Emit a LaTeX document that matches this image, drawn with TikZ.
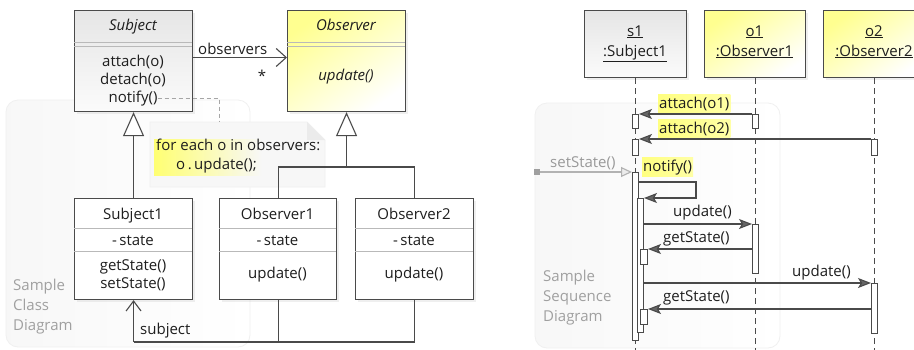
\documentclass[tikz,border=0pt]{standalone}
\usepackage{fontspec}
\setmainfont{Open Sans}
\usetikzlibrary{arrows.meta,shadows,calc}
\definecolor{lc}{HTML}{4A4A4A}
\definecolor{ah}{HTML}{666666}
\definecolor{gtxt}{HTML}{A0A0A0}
\definecolor{yel}{HTML}{FFFF90}
\definecolor{hl}{HTML}{FFFF80}
\definecolor{tc}{HTML}{1E1E1E}
\tikzset{
  box/.style={draw=lc, line width=1.1pt, inner sep=0pt, anchor=north west, drop shadow={opacity=0.12, shadow xshift=2.5pt, shadow yshift=-2.5pt}},
  graybox/.style={box, top color=gray!20, bottom color=gray!3},
  yelbox/.style={box, top color=yel, bottom color=white, shading angle=35},
  whitebox/.style={box, fill=white},
  txt/.style={inner sep=0pt, anchor=base, text=tc},
  ltxt/.style={inner sep=0pt, anchor=base west, text=tc},
  gtext/.style={inner sep=0pt, anchor=base west, text=gtxt},
  sepl/.style={draw=gray!55, line width=0.8pt},
  conn/.style={draw=lc, line width=1.1pt},
  gen/.style={conn, -{Triangle[open, length=24pt, width=21pt, fill=white]}},
  assoc/.style={conn, -{Straight Barb[length=10pt, width=18pt]}},
  lifeline/.style={draw=lc, line width=1.1pt, dash pattern=on 6pt off 4pt},
  act/.style={draw=lc, line width=1pt, fill=white, inner sep=0pt, anchor=north west, minimum width=6pt},
  msg/.style={draw=lc, line width=1.1pt, -{Stealth[length=13pt, width=10pt, inset=3pt, fill=ah]}},
  hilite/.style={inner xsep=1pt, inner ysep=2pt, anchor=base west, left color=hl, right color=hl!70!white, text=tc},
  panel/.style={draw=gray!12, line width=0.8pt, left color=gray!6, right color=white, rounded corners=12pt},
}
\begin{document}
\begin{tikzpicture}[x=1pt, y=-1pt, font=\fontsize{15}{18}\selectfont]
\useasboundingbox (0,0) rectangle (914,349);
\clip (0,0) rectangle (914,349);
\fill[white] (0,0) rectangle (914,349);
% background panels
\path[panel] (6,100) rectangle (250,347);
\path[panel] (535,103) rectangle (780,348);
\node[gtext] (smp1) at (13,290) {Sample};
\node[gtext] (cls1) at (13,310) {Class};
\node[gtext] (dia1) at (13,330) {Diagram};
\node[gtext] (smp2) at (543,281) {Sample};
\node[gtext] (seq2) at (543,301) {Sequence};
\node[gtext] (dia2) at (543,321) {Diagram};
% note
\path[fill=gray!6, draw=gray!12, line width=0.8pt] (150,122) -- (307,122) -- (325,140) -- (325,187) -- (150,187) -- cycle;
\path[fill=gray!16] (307,122) -- (307,140) -- (325,140) -- cycle;
\fill[left color=yellow!55, right color=gray!6] (154,139) rectangle (262,175);
\node[ltxt] (n1) at (156,150) {for each o in observers:};
\node[ltxt] (n2) at (176,169) {o\,.\,update();};
\coordinate (noteTop) at (219,122);
% class boxes
\node[graybox, minimum width=118pt, minimum height=101pt] (subj) at (74,10) {};
\node[yelbox, minimum width=118pt, minimum height=101pt] (obs) at (287,10) {};
\node[whitebox, minimum width=118pt, minimum height=101pt] (sub1) at (74,198) {};
\node[whitebox, minimum width=117pt, minimum height=101pt] (obs1) at (219,198) {};
\node[whitebox, minimum width=118pt, minimum height=101pt] (obs2) at (355,198) {};
% separators
\draw[sepl] (74,42) -- (192,42); \draw[sepl] (74,46) -- (192,46);
\draw[sepl] (287,42) -- (405,42); \draw[sepl] (287,46) -- (405,46);
\draw[sepl] (74,228) -- (192,228); \draw[sepl] (74,251) -- (192,251);
\draw[sepl] (219,228) -- (336,228); \draw[sepl] (219,251) -- (336,251);
\draw[sepl] (355,228) -- (473,228); \draw[sepl] (355,251) -- (473,251);
% class texts
\node[txt] (subjT) at (133,30) {\itshape Subject};
\node[txt] (att) at (133,66) {attach(o)};
\node[txt] (det) at (133,84) {detach(o)};
\node[txt] (nfy) at (133,102) {notify()};
\node[txt] (obsT) at (346,30) {\itshape Observer};
\node[txt] (obsU) at (346,80) {\itshape update()};
\node[txt] (s1T) at (133,219) {Subject1};
\node[txt] (s1S) at (133,245) {-\,state};
\node[txt] (s1G) at (133,270) {getState()};
\node[txt] (s1X) at (133,288) {setState()};
\node[txt] (o1T) at (277.5,219) {Observer1};
\node[txt] (o1S) at (277.5,245) {-\,state};
\node[txt] (o1U) at (277.5,278) {update()};
\node[txt] (o2T) at (414,219) {Observer2};
\node[txt] (o2S) at (414,245) {-\,state};
\node[txt] (o2U) at (414,278) {update()};
% class connectors
\draw[draw=gray!70, line width=0.9pt, dash pattern=on 4pt off 3pt] (nfy.east) -| (noteTop);
\draw[assoc] (subj.east |- att) ++(0,-4) coordinate (aS) -- (obs.west |- aS);
\node[ltxt] (obsL) at (198,54) {observers};
\node[txt] (star) at (262,81) {*};
\draw[gen] (sub1.north) -- (subj.south);
\coordinate (obsJ) at (obs.south |- 0,167);
\draw[gen] (obsJ) -- (obs.south);
\draw[conn] (obs1.north) |- (obsJ) -| (obs2.north);
\coordinate (botL) at (sub1.south |- 0,342);
\draw[conn] (obs2.south) |- (botL);
\draw[conn] (obs1.south) -- (obs1.south |- botL);
\draw[conn, -{Straight Barb[length=10pt, width=15pt]}] (botL) -- (sub1.south);
\node[ltxt] (subjL) at (140,334) {subject};
% sequence heads
\node[graybox, minimum width=102pt, minimum height=67pt] (s1) at (584,10) {};
\node[yelbox, minimum width=101pt, minimum height=67pt] (o1) at (704,10) {};
\node[yelbox, minimum width=102pt, minimum height=67pt] (o2) at (823,10) {};
\node[txt] (s1a) at (635,36) {\underline{s1}};
\node[txt] (s1b) at (635,56) {\underline{:Subject1}};
\node[txt] (o1a) at (754.5,36) {\underline{o1}};
\node[txt] (o1b) at (754.5,56) {\underline{:Observer1}};
\node[txt] (o2a) at (874,36) {\underline{o2}};
\node[txt] (o2b) at (874,56) {\underline{:Observer2}};
% lifelines
\draw[lifeline] (s1.south) -- (s1.south |- 0,352);
\draw[lifeline] (o1.south) -- (o1.south |- 0,352);
\draw[lifeline] (o2.south) -- (o2.south |- 0,352);
% activation bars
\node[act, minimum height=14pt] (a1s1) at (632,114) {};
\node[act, minimum height=14pt] (a1o1) at (752,114) {};
\node[act, minimum height=16pt] (a2s1) at (632,139) {};
\node[act, minimum height=16pt] (a2o2) at (871,139) {};
\node[act, minimum height=168pt] (main) at (632,172) {};
\node[act, minimum height=134pt] (nest) at (637,198) {};
\node[act, minimum height=15pt, minimum width=7pt] (g1s1) at (640,249) {};
\node[act, minimum height=15pt, minimum width=7pt] (g2s1) at (640,309) {};
\node[act, minimum height=49pt] (u1o1) at (752,224) {};
\node[act, minimum height=50pt] (u2o2) at (871,283) {};
% message labels
\node[hilite] (at1L) at (658,108) {attach(o1)};
\node[hilite] (at2L) at (658,133) {attach(o2)};
\node[hilite] (nfL) at (642,171) {notify()};
\node[gtext, text=gray!80] (ssL) at (550,167) {setState()};
\node[ltxt] (up1L) at (673,216) {update()};
\node[ltxt] (gs1L) at (663,242) {getState()};
\node[ltxt] (up2L) at (792,276) {update()};
\node[ltxt] (gs2L) at (663,301) {getState()};
% messages
\node[fill=gray!75, minimum size=6pt, inner sep=0pt] (ext) at (537,172) {};
\draw[draw=gray!60, line width=1.1pt, -{Triangle[open, length=11pt, width=10pt, fill=gray!15]}] (ext) -- (main.north west);
\draw[msg] (a1o1.north west) -- (a1s1.north east);
\draw[msg] (a2o2.north west) -- (a2s1.north east);
\coordinate (selfR) at (696,182);
\draw[msg] (main.east |- selfR) -- (selfR) |- (nest.north east);
\draw[msg] (nest.east |- u1o1.north) -- (u1o1.north west);
\draw[msg] (u1o1.west |- g1s1.north) -- (g1s1.north east);
\draw[msg] (nest.east |- u2o2.north) -- (u2o2.north west);
\draw[msg] (u2o2.west |- g2s1.north) -- (g2s1.north east);
\end{tikzpicture}
\end{document}
